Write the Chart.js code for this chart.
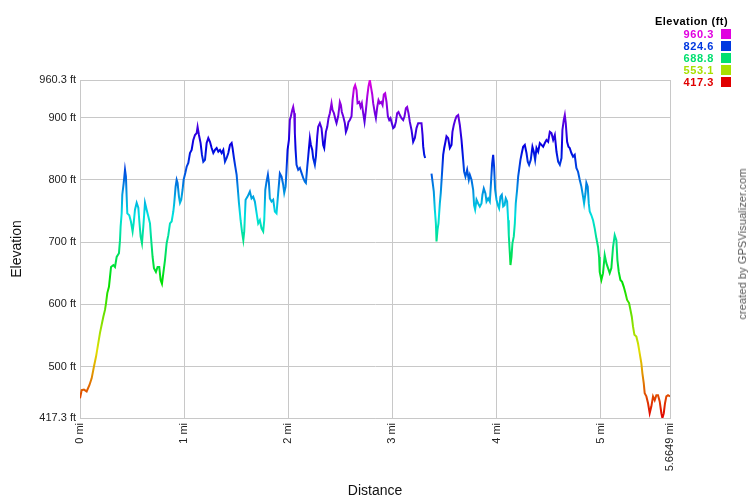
<!DOCTYPE html>
<html>
<head>
<meta charset="utf-8">
<script src="https://cdn.jsdelivr.net/npm/chart.js@4.4.1/dist/chart.umd.min.js"></script>
<style>
  body { margin: 0; background: #fff; font-family: "Liberation Sans", Arial, sans-serif; }
  #wrap { position: relative; width: 750px; height: 500px; }
  #legend { position: absolute; right: 19px; top: 15px; font-size: 11px; font-weight: bold; text-align: right; }
  #legend .ttl { color: #000; margin-bottom: 1px; letter-spacing: 0.45px; padding-right: 3px; }
  #legend .row { height: 12px; line-height: 12px; letter-spacing: 0.6px; }
  #legend .sw { display: inline-block; width: 10px; height: 10px; margin-left: 7px; vertical-align: -1px; }
  #credit { position: absolute; left: 742px; top: 244px; transform: translate(-50%, -50%) rotate(-90deg);
            white-space: nowrap; font-size: 11px; letter-spacing: 0.1px; color: #555; }
</style>
</head>
<body>
<div id="wrap">
  <canvas id="elevChart" width="750" height="500"></canvas>
  <div id="legend"></div>
  <div id="credit">created by GPSVisualizer.com</div>
</div>
<script>
// Elevation profile
const distances = [
    0.000, 0.016, 0.038, 0.064, 0.090, 0.112, 0.134, 0.154, 0.176, 0.192,
    0.208, 0.224, 0.240, 0.250, 0.262, 0.278, 0.288, 0.298, 0.320, 0.336,
    0.352, 0.374, 0.384, 0.390, 0.400, 0.406, 0.419, 0.432, 0.441, 0.448,
    0.454, 0.473, 0.489, 0.505, 0.515, 0.528, 0.544, 0.560, 0.569, 0.582,
    0.595, 0.608, 0.624, 0.640, 0.656, 0.672, 0.681, 0.697, 0.710, 0.729,
    0.745, 0.761, 0.774, 0.787, 0.800, 0.816, 0.832, 0.848, 0.864, 0.880,
    0.896, 0.905, 0.918, 0.928, 0.937, 0.950, 0.960, 0.972, 0.985, 0.995,
    1.011, 1.024, 1.040, 1.056, 1.072, 1.088, 1.104, 1.120, 1.129, 1.142,
    1.158, 1.171, 1.184, 1.200, 1.216, 1.232, 1.248, 1.264, 1.280, 1.296,
    1.312, 1.328, 1.344, 1.360, 1.376, 1.392, 1.408, 1.424, 1.440, 1.456,
    1.465, 1.478, 1.491, 1.504, 1.516, 1.526, 1.542, 1.555, 1.568, 1.577,
    1.590, 1.609, 1.631, 1.647, 1.663, 1.679, 1.696, 1.711, 1.727, 1.743,
    1.759, 1.769, 1.779, 1.791, 1.804, 1.814, 1.823, 1.839, 1.855, 1.871,
    1.887, 1.903, 1.919, 1.935, 1.951, 1.961, 1.974, 1.983, 1.993, 2.006,
    2.015, 2.025, 2.038, 2.047, 2.057, 2.063, 2.070, 2.079, 2.095, 2.111,
    2.127, 2.143, 2.159, 2.169, 2.182, 2.191, 2.207, 2.217, 2.230, 2.239,
    2.255, 2.265, 2.278, 2.287, 2.303, 2.319, 2.335, 2.345, 2.361, 2.374,
    2.386, 2.399, 2.415, 2.425, 2.438, 2.454, 2.463, 2.479, 2.495, 2.505,
    2.514, 2.527, 2.543, 2.553, 2.566, 2.578, 2.591, 2.607, 2.617, 2.630,
    2.642, 2.655, 2.665, 2.681, 2.694, 2.706, 2.719, 2.732, 2.745, 2.758,
    2.770, 2.783, 2.793, 2.806, 2.815, 2.831, 2.841, 2.854, 2.866, 2.879,
    2.892, 2.905, 2.917, 2.930, 2.943, 2.956, 2.969, 2.981, 2.994, 3.007,
    3.020, 3.033, 3.045, 3.058, 3.071, 3.087, 3.103, 3.116, 3.129, 3.141,
    3.154, 3.167, 3.183, 3.199, 3.215, 3.231, 3.247, 3.263, 3.279, 3.289,
    3.295, 3.305, 3.314, 3.345, 3.375, 3.385, 3.397, 3.407, 3.417, 3.423,
    3.433, 3.442, 3.455, 3.464, 3.474, 3.487, 3.497, 3.509, 3.519, 3.535,
    3.551, 3.567, 3.576, 3.589, 3.602, 3.615, 3.631, 3.647, 3.663, 3.679,
    3.688, 3.701, 3.717, 3.733, 3.743, 3.759, 3.775, 3.784, 3.794, 3.807,
    3.823, 3.839, 3.855, 3.864, 3.877, 3.893, 3.903, 3.919, 3.935, 3.944,
    3.957, 3.967, 3.976, 3.986, 3.999, 4.012, 4.024, 4.037, 4.050, 4.063,
    4.076, 4.088, 4.101, 4.111, 4.117, 4.127, 4.133, 4.143, 4.152, 4.165,
    4.175, 4.184, 4.197, 4.207, 4.216, 4.229, 4.242, 4.255, 4.271, 4.287,
    4.299, 4.312, 4.328, 4.344, 4.357, 4.370, 4.383, 4.399, 4.415, 4.431,
    4.447, 4.463, 4.479, 4.495, 4.511, 4.527, 4.543, 4.559, 4.575, 4.591,
    4.607, 4.623, 4.632, 4.645, 4.655, 4.664, 4.677, 4.690, 4.702, 4.718,
    4.734, 4.750, 4.766, 4.782, 4.798, 4.814, 4.830, 4.840, 4.853, 4.862,
    4.875, 4.885, 4.894, 4.910, 4.926, 4.942, 4.958, 4.974, 4.984, 4.990,
    5.006, 5.022, 5.038, 5.054, 5.070, 5.086, 5.102, 5.118, 5.134, 5.150,
    5.160, 5.173, 5.189, 5.205, 5.221, 5.237, 5.253, 5.272, 5.285, 5.298,
    5.310, 5.323, 5.342, 5.358, 5.374, 5.390, 5.400, 5.413, 5.422, 5.438,
    5.454, 5.470, 5.486, 5.502, 5.518, 5.534, 5.550, 5.566, 5.582, 5.592,
    5.605, 5.617, 5.630, 5.646, 5.6649
];

// feet; null = gap in the track
const elevations = [
    449, 462, 463, 460, 470, 481, 500, 516, 538, 554,
    567, 580, 591, 602, 618, 628, 644, 660, 663, 660,
    676, 682, 703, 725, 746, 776, 794, 816, 805, 773,
    746, 743, 733, 717, 730, 752, 763, 755, 735, 709,
    698, 725, 763, 752, 741, 730, 709, 676, 658, 652,
    660, 660, 639, 633, 650, 671, 698, 711, 730, 733,
    749, 763, 789, 800, 795, 773, 763, 768, 784, 800,
    811, 821, 827, 843, 848, 864, 872, 875, 885, 872,
    859, 840, 829, 832, 859, 867, 861, 851, 843, 848,
    851, 845, 848, 843, 848, 829, 835, 843, 856, 859,
    851, 835, 821, 808, 784, 763, 735, 717, 703, 717,
    768, 773, 781, 770, 773, 765, 746, 730, 735, 722,
    717, 735, 784, 797, 808, 795, 770, 765, 768, 749,
    746, 779, 810, 805, 792, 779, 789, 816, 848, 864,
    896, 902, 912, 917, 907, 875, 848, 824, 816, 819,
    811, 803, 797, 795, 821, 837, 867, 856, 848, 835,
    824, 837, 870, 885, 891, 883, 856, 851, 877, 885,
    899, 907, 923, 912, 907, 896, 891, 902, 925, 920,
    909, 902, 891, 877, 883, 893, 896, 902, 928, 947,
    952, 944, 923, 925, 917, 923, 907, 893, 912, 934,
    950, 960.3, 950, 937, 923, 907, 899, 917, 928, 923,
    925, 920, 937, 939, 925, 902, 896, 899, 891, 883,
    885, 893, 907, 909, 904, 899, 896, 902, 915, 917,
    907, 893, 880, 861, 867, 883, 891, 891, 891, 872,
    854, 840, 835, null, 810, 797, 781, 752, 730, 701,
    720, 730, 762, 779, 805, 840, 851, 861, 870, 867,
    851, 856, 877, 888, 896, 902, 904, 888, 864, 832,
    813, 805, 816, 800, 808, 800, 784, 759, 752, 768,
    762, 757, 762, 776, 786, 778, 765, 770, 765, 789,
    826, 840, 821, 784, 768, 759, 754, 773, 776, 757,
    759, 770, 765, 735, 711, 682, 663, 676, 698, 709,
    730, 762, 784, 805, 816, 832, 843, 853, 856, 843,
    829, 824, 832, 853, 845, 832, 851, 845, 859, 856,
    853, 859, 864, 861, 877, 875, 864, 872, 845, 829,
    824, 835, 880, 896, 904, 891, 861, 853, 851, 843,
    837, 840, 819, 813, 800, 789, 773, 762, 778, 795,
    789, 762, 749, 743, 735, 722, 706, 692, 676, 652,
    639, 650, 679, 666, 658, 650, 658, 692, 711, 703,
    671, 652, 639, 636, 628, 618, 607, 602, 591, 580,
    564, 551, 548, 537, 521, 505, 489, 473, 457, 452,
    441, 425, 436, 452, 446, 454, 454, 444, 425, 417.3,
    425, 441, 452, 454, 452
];

const yTicks = [417.3, 500, 600, 700, 800, 900, 960.3];
const xTicks = [0, 1, 2, 3, 4, 5, 5.6649];
const legendValues = ['960.3', '824.6', '688.8', '553.1', '417.3'];

const ELEV_MIN = 417.3;
const ELEV_MAX = 960.3;

// rainbow from red (low) to magenta (high)
function hueColor(v) {
    const h = 300 * (v - ELEV_MIN) / (ELEV_MAX - ELEV_MIN);
    return 'hsl(' + h.toFixed(1) + ', 100%, 44%)';
}

function elevGradient(context) {
    const chart = context.chart;
    if (!chart.chartArea) return '#00f';
    const y = chart.scales.y;
    const g = chart.ctx.createLinearGradient(0, y.getPixelForValue(ELEV_MIN), 0, y.getPixelForValue(ELEV_MAX));
    for (let i = 0; i <= 10; i++) {
        g.addColorStop(i / 10, hueColor(ELEV_MIN + (ELEV_MAX - ELEV_MIN) * i / 10));
    }
    return g;
}

// legend box in the top right corner
const legend = document.getElementById('legend');
let html = '<div class="ttl">Elevation (ft)</div>';
legendValues.forEach(v => {
    const c = hueColor(parseFloat(v));
    html += '<div class="row" style="color:' + c + '">' + v +
            '<span class="sw" style="background:' + c + '"></span></div>';
});
legend.innerHTML = html;

const points = distances.map((d, i) => ({ x: d, y: elevations[i] }));
const gridColor = '#c8c8c8';
const tickFont = { family: '"Liberation Sans", Arial, sans-serif', size: 11 };

new Chart(document.getElementById('elevChart').getContext('2d'), {
    type: 'line',
    data: {
        datasets: [{
            label: 'Elevation',
            data: points,
            borderColor: elevGradient,
            borderWidth: 2,
            pointRadius: 0,
            tension: 0,
            spanGaps: false,
            fill: false
        }]
    },
    options: {
        responsive: false,
        animation: false,
        layout: {
            padding: { top: 80, right: 80, left: 0, bottom: 0 }
        },
        plugins: {
            legend: { display: false },
            tooltip: { enabled: false }
        },
        scales: {
            x: {
                type: 'linear',
                min: 0,
                max: 5.6649,
                afterBuildTicks: axis => { axis.ticks = xTicks.map(v => ({ value: v })); },
                afterFit: axis => { axis.height = 82; },
                grid: { color: gridColor, drawTicks: false },
                border: { color: gridColor },
                ticks: {
                    autoSkip: false,
                    minRotation: 90,
                    maxRotation: 90,
                    padding: 5,
                    color: '#222',
                    font: tickFont,
                    callback: v => v + ' mi'
                },
                title: {
                    display: true,
                    text: 'Distance',
                    color: '#111',
                    font: { family: '"Liberation Sans", Arial, sans-serif', size: 14 },
                    padding: { top: 3, bottom: 0 }
                }
            },
            y: {
                type: 'linear',
                min: ELEV_MIN,
                max: ELEV_MAX,
                afterBuildTicks: axis => { axis.ticks = yTicks.map(v => ({ value: v })); },
                afterFit: axis => { axis.width = 80; },
                grid: { color: gridColor, drawTicks: false },
                border: { color: gridColor },
                ticks: {
                    padding: 4,
                    color: '#222',
                    font: tickFont,
                    callback: v => v + ' ft'
                },
                title: {
                    display: true,
                    text: 'Elevation',
                    color: '#111',
                    font: { family: '"Liberation Sans", Arial, sans-serif', size: 14 },
                    padding: { top: 9, bottom: 0 }
                }
            }
        }
    }
});
</script>
</body>
</html>
